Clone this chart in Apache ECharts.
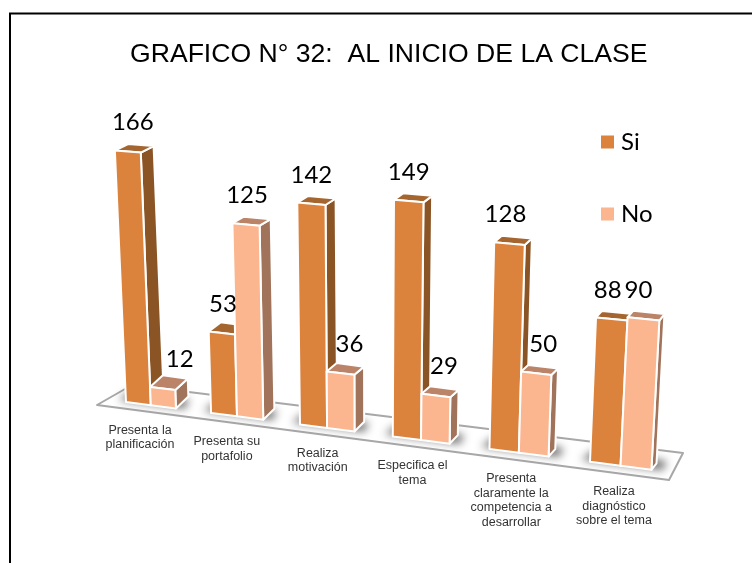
<!DOCTYPE html>
<html>
<head>
<meta charset="utf-8">
<style>html,body{margin:0;padding:0;background:#fff}#c{width:752px;height:563px}</style>
<script src="https://cdn.jsdelivr.net/npm/echarts@6/dist/echarts.min.js"></script>
</head>
<body>
<div id="c"></div>
<script>
const titleText = 'GRAFICO N° 32:  AL INICIO DE LA CLASE';
const categories = ['Presenta la\nplanificación','Presenta su\nportafolio','Realiza\nmotivación','Especifica el\ntema','Presenta\nclaramente la\ncompetencia a\ndesarrollar','Realiza\ndiagnóstico\nsobre el tema'];
const siValues = [166,53,142,149,128,88];
const noValues = [12,125,36,29,50,90];

// layout of the hand-placed value labels (horizontal nudge, px)
const siNudge = [5,1,0,0,-4,-4];
const noNudge = [17,1,9,8,7,-5];

// perspective projection of the flat grid on to the tilted floor
const GRID = {left:126, width:464, bottom:161, height:303};
const BAR = 27.5;
const x0 = GRID.left, x1 = GRID.left + GRID.width;
const groundY0 = 563 - GRID.bottom;
const warp = t => t + 2.25e-4 * (t - x0) * (t - x1);
const ground = X => groundY0 + 0.129 * (X - x0);
function project(t, depth, h) {
  const X = warp(t);
  const hp = h * (1 + 0.00018 * (X - x0));
  const dx = Math.max(4, 13 - 8 * (X - 139) / 519);
  const dy = Math.max(6.5, 12 - (X - 175) * 0.0125 - hp * 0.03);
  return [X + (X - 365) * hp / 5400 + depth * dx, ground(X) - hp - depth * dy];
}
const poly = (pts, fill) => ({
  type:'polygon', shape:{points:pts},
  style:{fill:fill, stroke:'#fff', lineWidth:2, lineJoin:'round'}
});

function barRenderer(offset, colors) {
  return function (params, api) {
    const i = api.value(0), v = api.value(1);
    const b = api.coord([i, 0]), tp = api.coord([i, v]);
    const h = b[1] - tp[1];
    const t0 = b[0] + offset, t1 = t0 + BAR;
    const fl = project(t0,0,h), fr = project(t1,0,h);
    return {type:'group', children:[
      poly([project(t1,0,0),project(t1,1,0),project(t1,1,h),fr], colors.side),
      poly([fl,fr,project(t1,1,h),project(t0,1,h)], colors.top),
      poly([project(t0,0,0),project(t1,0,0),fr,fl], colors.front)
    ]};
  };
}
function valueRenderer(offset, nudge) {
  return function (params, api) {
    const i = api.value(0), v = api.value(1);
    const b = api.coord([i, 0]), tp = api.coord([i, v]);
    const h = b[1] - tp[1];
    const fl = project(b[0] + offset, 0, h), fr = project(b[0] + offset + BAR, 0, h);
    return {type:'text', style:{
      text:String(v), x:(fl[0]+fr[0])/2 + nudge[i], y:(fl[1]+fr[1])/2 - 29,
      align:'center', verticalAlign:'middle',
      font:'24px Lato, "Open Sans", sans-serif', fill:'#000'
    }};
  };
}
// soft floor shadow: the polygon itself sits off-canvas, only its blurred shadow lands on the floor
const OFF = 1500;
function shadowRenderer(params, api) {
  const b = api.coord([api.value(0), 0]);
  const XL = warp(b[0] - 8), XR = warp(b[0] + 2 * BAR + 10);
  return {type:'polygon', shape:{points:[
    [XL - OFF, ground(XL) - 1], [XR - OFF, ground(XR) - 1], [XR + 4 - OFF, ground(XR) - 10], [XL + 12 - OFF, ground(XL) - 10]
  ]}, style:{fill:'#000', shadowColor:'rgba(95,95,95,0.9)', shadowBlur:9, shadowOffsetX:OFF}};
}
function labelRenderer(params, api) {
  const i = api.value(0);
  const X = warp(api.coord([i,0])[0]);
  return {type:'text', style:{
    text:categories[i], x:X + 14 + (X - x0) * 0.0215, y:ground(X) + 21 + (X - x0) * 0.004,
    align:'center', verticalAlign:'top', lineHeight:14.5,
    font:'12.5px "Liberation Sans", Arial, sans-serif', fill:'#333'
  }};
}
const indexData = categories.map((c,i)=>[i,0]);
const siData = siValues.map((v,i)=>[i,v]);
const noData = noValues.map((v,i)=>[i,v]);
const chart = echarts.init(document.getElementById('c'), null, {renderer:'canvas'});
const custom = (o) => Object.assign({type:'custom', silent:true, clip:false, encode:{x:0,y:1}}, o);
chart.setOption({
  animation:false,
  backgroundColor:'#fff',
  title:{text:titleText, left:125, top:36, textStyle:{fontFamily:'Liberation Sans',fontSize:26.6,fontWeight:'normal',color:'#000'}},
  legend:{
    data:['Si','No'], orient:'vertical', left:601, top:130, padding:0,
    icon:'rect', itemWidth:13, itemHeight:13, itemGap:48, selectedMode:false,
    textStyle:{fontFamily:'Lato',fontSize:24,color:'#000',padding:[0,0,0,2]}
  },
  grid:{left:GRID.left, width:GRID.width, bottom:GRID.bottom, height:GRID.height},
  xAxis:{type:'category', data:categories, boundaryGap:false, show:false},
  yAxis:{type:'value', min:0, max:200, show:false},
  graphic:[
    {type:'polyline', shape:{points:[[10,563],[10,13.5],[752,13.5]]}, style:{stroke:'#000',lineWidth:2,fill:null}, silent:true},
    {type:'polygon', shape:{points:[[97,405],[132,385],[683,453],[669,480]]},
     style:{fill:'#fff',stroke:'#a8a8a8',lineWidth:2,lineJoin:'round'}, silent:true}
  ],
  series:[
    custom({name:'shadow', z:1, renderItem:shadowRenderer, data:indexData}),
    custom({name:'categoryLabels', z:1, renderItem:labelRenderer, data:indexData}),
    custom({name:'Si', z:3, itemStyle:{color:'#DB823D'},
      renderItem:barRenderer(0,{front:'#DB823D',side:'#8B5425',top:'#A4652F'}), data:siData}),
    custom({name:'No', z:4, itemStyle:{color:'#FBB58F'},
      renderItem:barRenderer(BAR,{front:'#FBB58F',side:'#A0735A',top:'#BB8469'}), data:noData}),
    custom({name:'siValueLabels', z:5, renderItem:valueRenderer(0,siNudge), data:siData}),
    custom({name:'noValueLabels', z:5, renderItem:valueRenderer(BAR,noNudge), data:noData})
  ]
});
</script>
</body>
</html>
